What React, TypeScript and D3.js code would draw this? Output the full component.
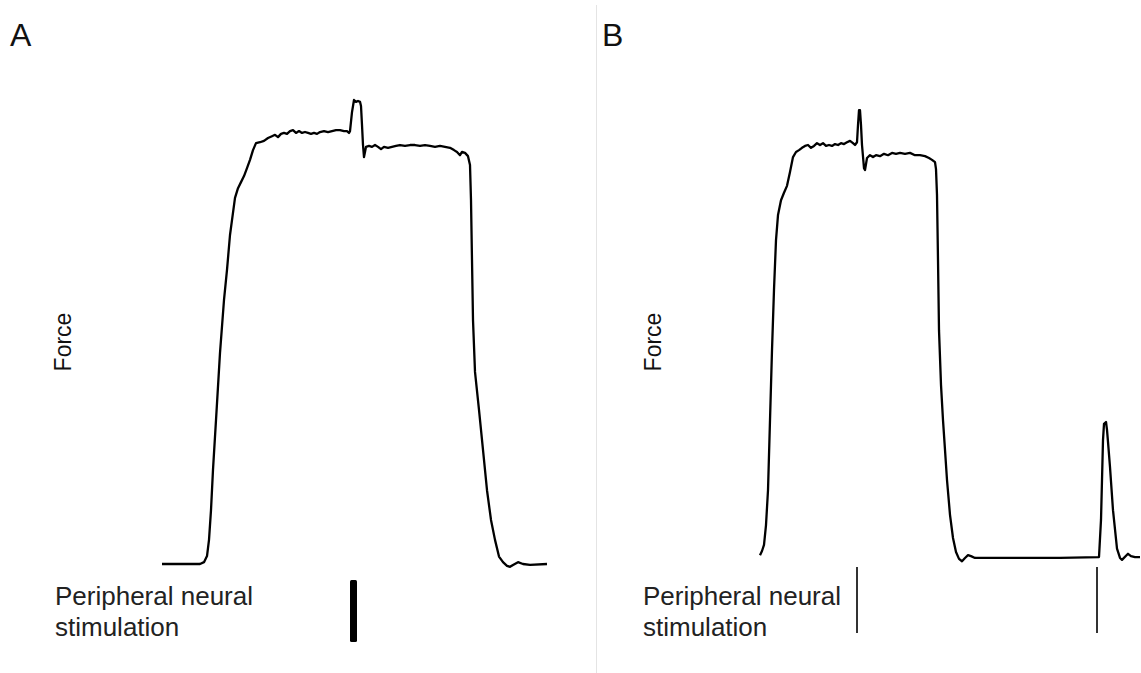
import React from "react";
import * as d3 from "d3";

// Panel A force trace (time in ms, force in % of peak)
const timeA = [20,400,440,470,490,510,530,560,600,640,670,700,720,750,780,810,840,870,900,930,960,1000,1040,1080,1120,1150,1180,1210,1240,1270,1300,1330,1360,1390,1420,1450,1480,1510,1540,1570,1600,1640,1680,1720,1760,1800,1840,1870,1890,1900,1920,1940,1960,1980,2000,2010,2020,2030,2040,2050,2060,2090,2120,2150,2180,2210,2240,2280,2320,2360,2400,2450,2500,2550,2600,2650,2700,2750,2800,2850,2900,2940,2970,3000,3020,3050,3080,3100,3110,3120,3130,3150,3190,3230,3270,3310,3350,3390,3430,3470,3500,3530,3580,3630,3700,3870];
const forceA = [0,0,0.4,1.7,5.2,11.6,20.3,31.0,45.5,56.9,63.4,70.9,74.1,78.9,81.0,82.3,83.6,85.3,87.1,89.2,90.7,90.9,91.2,91.8,92.2,92.5,92.0,92.7,92.9,92.7,93.3,93.5,92.9,93.3,92.9,93.1,92.9,92.7,92.9,92.7,93.1,93.3,93.1,93.3,93.5,93.5,93.3,93.3,92.9,93.3,97.4,100,99.6,99.8,99.6,98.7,94.6,90.3,87.7,88.8,89.9,90.1,89.9,90.3,89.9,89.4,89.9,89.7,89.9,90.1,90.3,90.1,90.3,90.3,90.1,90.3,90.1,89.9,90.1,89.9,89.7,89.2,88.8,88.1,88.8,88.6,87.9,86.0,78.4,65.5,52.6,41.4,33.2,24.6,15.9,9.5,5.2,1.6,0.4,-0.4,-0.6,-0.2,0.4,0,-0.2,0];

// Panel B force trace
const timeB = [50,70,90,110,130,150,170,190,210,230,260,290,320,350,380,410,440,470,500,530,560,590,620,650,680,710,740,770,800,830,860,890,920,950,980,1000,1020,1030,1040,1050,1060,1070,1090,1100,1120,1150,1180,1210,1250,1290,1330,1370,1410,1450,1500,1550,1600,1650,1700,1740,1770,1800,1810,1820,1830,1840,1860,1880,1900,1920,1950,1980,2010,2040,2070,2100,2130,2160,2200,2350,2550,2750,3050,3440,3460,3470,3480,3490,3510,3520,3530,3550,3580,3620,3650,3670,3730,3760,3800,3850];
const forceB = [1.9,2.8,4.1,8.4,15.9,31.0,46.1,59.1,69.8,75.2,78.4,80.0,81.5,84.5,87.7,88.8,89.2,89.7,90.1,90.3,89.7,90.1,90.7,90.3,90.7,90.1,90.3,90.1,90.5,90.3,90.7,90.5,90.9,91.2,90.7,90.3,90.9,94.6,97.8,97.8,94.6,90.3,85.3,84.9,87.5,88.1,87.7,88.1,87.9,88.4,88.1,88.6,88.4,88.6,88.4,88.6,88.1,88.1,87.9,87.5,87.1,86.6,85.1,79.5,65.5,50.4,38.6,31.0,24.6,18.1,10.6,5.6,2.6,1.1,0.6,1.3,1.9,1.7,1.3,1.3,1.3,1.3,1.3,1.5,9.5,18.1,26.7,30.2,30.6,28.9,26.3,20.9,11.6,3.3,1.3,0.9,2.2,1.7,1.5,1.5];

// Stimulus times (ms)
const stimA = [1935];
const stimB = [1020, 3420];

const panelLabels = ["A", "B"];
const yLabel = "Force";
const stimLines = ["Peripheral neural", "stimulation"];

const W = 1141;
const H = 673;
const FONT = "'Liberation Sans', Arial, sans-serif";

export default function App() {
  const y = d3.scaleLinear().domain([0, 100]).range([564, 100]);
  const xA = d3.scaleLinear().domain([0, 3880]).range([160, 548]);
  const xB = d3.scaleLinear().domain([0, 3860]).range([755, 1141]);

  const lineA = d3
    .line<number>()
    .x((_, i) => xA(timeA[i]))
    .y((d) => y(d))
    .curve(d3.curveLinear);
  const lineB = d3
    .line<number>()
    .x((_, i) => xB(timeB[i]))
    .y((d) => y(d))
    .curve(d3.curveLinear);

  return (
    <svg
      width={W}
      height={H}
      style={{ position: "absolute", left: 0, top: 0, background: "#fff" }}
      fontFamily={FONT}
    >
      <rect x={0} y={0} width={W} height={H} fill="#fff" />
      <line x1={596.5} x2={596.5} y1={5} y2={H} stroke="#e4e4e4" strokeWidth={1} />

      <text x={10} y={46} fontSize={32} fill="#111">{panelLabels[0]}</text>
      <text x={602} y={46} fontSize={32} fill="#111">{panelLabels[1]}</text>

      <text transform="translate(71,342) rotate(-90)" textAnchor="middle" fontSize={23} fill="#111">{yLabel}</text>
      <text transform="translate(661,342) rotate(-90)" textAnchor="middle" fontSize={23} fill="#111">{yLabel}</text>

      <text x={55} y={605} fontSize={26} fill="#222">{stimLines[0]}</text>
      <text x={55} y={636} fontSize={26} fill="#222">{stimLines[1]}</text>
      <text x={643} y={605} fontSize={26} fill="#222">{stimLines[0]}</text>
      <text x={643} y={636} fontSize={26} fill="#222">{stimLines[1]}</text>

      <path d={lineA(forceA) || ""} fill="none" stroke="#000" strokeWidth={2.3} strokeLinejoin="round" />
      <path d={lineB(forceB) || ""} fill="none" stroke="#000" strokeWidth={2.3} strokeLinejoin="round" />

      {stimA.map((t, i) => (
        <rect key={"sa" + i} x={xA(t) - 3.5} y={580} width={7} height={62} rx={1.5} fill="#000" />
      ))}
      {stimB.map((t, i) => (
        <rect key={"sb" + i} x={xB(t) - 1} y={567} width={2} height={66} fill="#333" />
      ))}
    </svg>
  );
}
